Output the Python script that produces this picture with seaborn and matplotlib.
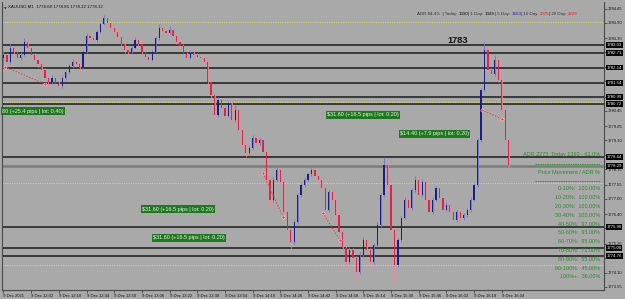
import numpy as np
import pandas as pd
import matplotlib
matplotlib.use("Agg")
import matplotlib.pyplot as plt
import seaborn as sns
from matplotlib.transforms import blended_transform_factory

# ---------------- data (XAUUSD, 2-minute bars from 11:46) ----------------
first_open = 1782.50
closes = [1782.64, 1782.36, 1782.91, 1782.75, 1782.52, 1782.64, 1783.14, 1782.91, 1782.64, 1782.44,
          1782.28, 1782.05, 1781.73, 1781.58, 1781.73, 1781.50, 1781.42, 1781.73, 1781.97, 1782.20,
          1782.36, 1782.28, 1782.13, 1782.75, 1783.38, 1783.30, 1783.22, 1783.54, 1783.85, 1784.08,
          1783.89, 1783.69, 1783.54, 1783.34, 1783.07, 1782.83, 1782.75, 1782.91, 1783.22, 1783.07,
          1782.75, 1782.56, 1782.44, 1782.75, 1783.30, 1783.69, 1783.58, 1783.50, 1783.61, 1783.38,
          1783.14, 1782.99, 1782.67, 1782.52, 1782.71, 1782.64, 1782.56, 1782.52, 1782.36, 1781.58,
          1781.07, 1780.29, 1780.87, 1780.56, 1780.25, 1780.76, 1780.09, 1780.48, 1779.70, 1779.11,
          1778.80, 1778.99, 1779.38, 1779.19, 1779.31, 1778.84, 1777.74, 1776.96, 1777.74, 1778.13,
          1777.66, 1776.49, 1775.78, 1775.31, 1776.09, 1777.15, 1777.54, 1777.74, 1777.97, 1778.13,
          1777.90, 1777.74, 1777.43, 1776.56, 1777.27, 1776.96, 1776.37, 1775.70, 1775.08, 1774.53,
          1775.00, 1774.68, 1774.14, 1774.80, 1775.39, 1775.00, 1774.53, 1775.19, 1775.98, 1777.15,
          1778.33, 1777.54, 1775.78, 1774.41, 1775.39, 1776.25, 1776.96, 1776.64, 1777.35, 1777.74,
          1777.15, 1777.66, 1776.96, 1776.49, 1776.96, 1777.43, 1777.03, 1776.56, 1776.76, 1776.49,
          1776.17, 1776.49, 1776.25, 1776.37, 1776.56, 1776.96, 1777.54, 1779.31, 1781.26, 1782.83,
          1782.05, 1781.89, 1782.44, 1781.66, 1780.48, 1779.31, 1778.32]
highs = [1782.80, 1782.72, 1783.11, 1783.00, 1782.83, 1782.74, 1783.30, 1783.22, 1782.98, 1782.72,
         1782.52, 1782.36, 1782.12, 1781.85, 1781.84, 1781.80, 1781.62, 1781.82, 1782.05, 1782.30,
         1782.48, 1782.44, 1782.36, 1782.84, 1783.48, 1783.46, 1783.40, 1783.62, 1783.94, 1784.20,
         1784.14, 1783.96, 1783.76, 1783.62, 1783.42, 1783.14, 1782.92, 1783.00, 1783.32, 1783.28,
         1783.14, 1782.82, 1782.62, 1782.84, 1783.38, 1783.85, 1783.76, 1783.66, 1783.77, 1783.68,
         1783.44, 1783.22, 1783.06, 1782.74, 1782.80, 1782.78, 1782.70, 1782.64, 1782.60, 1782.42,
         1781.64, 1781.12, 1780.99, 1780.94, 1780.64, 1780.84, 1780.82, 1780.68, 1780.54, 1779.78,
         1779.18, 1779.08, 1779.50, 1779.46, 1779.40, 1779.36, 1778.90, 1777.82, 1777.84, 1778.29,
         1778.20, 1777.72, 1776.56, 1775.86, 1776.18, 1777.24, 1777.64, 1777.84, 1778.06, 1778.24,
         1778.20, 1777.98, 1777.82, 1777.50, 1777.36, 1777.34, 1777.02, 1776.44, 1775.78, 1775.16,
         1775.10, 1775.08, 1774.76, 1774.90, 1775.50, 1775.46, 1775.08, 1775.28, 1776.08, 1777.24,
         1778.64, 1778.40, 1777.60, 1775.86, 1775.48, 1776.34, 1777.06, 1777.04, 1777.44, 1777.90,
         1777.80, 1777.76, 1777.72, 1777.04, 1777.06, 1777.52, 1777.50, 1777.10, 1776.86, 1776.84,
         1776.56, 1776.58, 1776.56, 1776.46, 1776.64, 1777.06, 1777.64, 1779.40, 1781.36, 1783.14,
         1782.96, 1782.14, 1782.64, 1782.50, 1781.72, 1780.56, 1779.38]
lows = [1782.13, 1782.25, 1782.30, 1782.66, 1782.42, 1782.45, 1782.58, 1782.83, 1782.55, 1782.36,
        1782.18, 1781.96, 1781.62, 1781.34, 1781.50, 1781.42, 1781.30, 1781.36, 1781.66, 1781.90,
        1782.12, 1782.18, 1782.02, 1782.08, 1782.70, 1783.20, 1783.10, 1783.16, 1783.48, 1783.80,
        1783.80, 1783.60, 1783.44, 1783.24, 1782.98, 1782.72, 1782.62, 1782.68, 1782.86, 1782.98,
        1782.66, 1782.46, 1782.32, 1782.38, 1782.70, 1783.24, 1783.48, 1783.40, 1783.44, 1783.30,
        1783.06, 1782.90, 1782.58, 1782.42, 1782.46, 1782.56, 1782.48, 1782.44, 1782.28, 1781.50,
        1780.96, 1780.17, 1780.22, 1780.48, 1780.16, 1780.20, 1779.98, 1780.02, 1779.60, 1779.00,
        1778.64, 1778.72, 1778.92, 1779.10, 1779.12, 1778.74, 1777.60, 1776.64, 1776.88, 1777.66,
        1777.56, 1776.38, 1775.66, 1775.08, 1775.24, 1776.02, 1777.06, 1777.46, 1777.66, 1777.90,
        1777.82, 1777.64, 1777.34, 1776.41, 1776.48, 1776.86, 1776.26, 1775.60, 1774.98, 1774.29,
        1774.46, 1774.58, 1773.82, 1774.06, 1774.72, 1774.90, 1774.37, 1774.46, 1775.12, 1775.90,
        1777.08, 1777.44, 1775.66, 1773.74, 1774.34, 1775.32, 1776.18, 1776.54, 1776.58, 1777.28,
        1777.06, 1777.08, 1776.86, 1776.40, 1776.42, 1776.90, 1776.94, 1776.46, 1776.48, 1776.40,
        1775.98, 1776.10, 1776.16, 1776.18, 1776.30, 1776.50, 1776.90, 1777.48, 1779.24, 1781.20,
        1781.96, 1781.78, 1781.82, 1781.56, 1780.38, 1779.20, 1777.74]

x_labels = ["9 Dec 2021", "9 Dec 12:02", "9 Dec 12:18", "9 Dec 12:34", "9 Dec 12:50", "9 Dec 13:06",
            "9 Dec 13:22", "9 Dec 13:38", "9 Dec 13:54", "9 Dec 14:10", "9 Dec 14:26", "9 Dec 14:42",
            "9 Dec 14:58", "9 Dec 15:14", "9 Dec 15:30", "9 Dec 15:46", "9 Dec 16:02", "9 Dec 16:18",
            "9 Dec 16:34"]
y_ticks = [1784.45, 1783.90, 1783.30, 1782.75, 1782.15, 1781.60, 1781.00, 1780.45, 1779.85, 1779.30,
           1778.70, 1778.15, 1777.55, 1777.00, 1776.40, 1775.85, 1775.25, 1774.70, 1774.10, 1773.55]
# tick labels hidden behind the black price boxes in the reference
hidden_ticks = [1782.75, 1782.15, 1781.60, 1781.00, 1778.70, 1775.85, 1774.70]

level_prices = [1783.03, 1782.71, 1782.14, 1781.54, 1780.99, 1780.72, 1778.64, 1775.90, 1775.08, 1774.76]
gray_level = 1778.29
adr_levels = [1783.93, 1780.79, 1777.62, 1774.41]

trade_texts = ["80 (+25.4 pips | lot: 0.40)", "$31.60 (+16.5 pips | lot: 0.20)",
               "$14.40 (+7.9 pips | lot: 0.20)", "$31.60 (+16.5 pips | lot: 0.20)",
               "$31.60 (+16.5 pips | lot: 0.20)"]
trade_text_x = [-0.4, 93.5, 114.6, 40.0, 43.2]
trade_text_y = [1780.44, 1780.29, 1779.54, 1776.60, 1775.47]

trade_id = [0, 0, 1, 1, 2, 2, 3, 3]
trade_bar = [0.4, 12.0, 75.0, 80.8, 92.3, 97.2, 138.2, 144.0]
trade_price = [1782.17, 1781.50, 1778.01, 1776.29, 1776.45, 1775.39, 1780.49, 1780.13]

adr_pieces = ["ADR 84.4%", "  | Today: ", "1390", "| 1 Day: ", "1349", "| 5 Day: ", "1663",
              "| 10 Day: ", "2075", "| 20 Day: ", "2229"]
adr_colors = ["#333333", "#333333", "#111111", "#333333", "#111111", "#333333", "#2020c0",
              "#333333", "#e02020", "#333333", "#e02020"]

adr_header = "ADR 2275  Today 1390 - 61.0%"
pm_header = "Price Movement / ADR %"
pm_ranges = ["0-10%:", "10-20%:", "20-30%:", "30-40%:", "40-50%:", "50-60%:", "60-70%:",
             "70-80%:", "80-90%:", "90-100%:", "100%+:"]
pm_values = [100.00, 100.00, 100.00, 100.00, 97.00, 93.00, 85.00, 71.00, 55.00, 45.00, 36.00]

title_text = "XAUUSD,M1  1778.68 1778.86 1778.22 1778.32"
peak_label = "1783"

# ---------------- style ----------------
BG = "#a9a9a9"
sns.set_theme(style="white", rc={"axes.facecolor": BG, "figure.facecolor": BG})
plt.rcParams["font.family"] = ["Liberation Sans", "DejaVu Sans"]

fig = plt.figure(figsize=(6.25, 2.99), dpi=100)
ax = fig.add_axes([2 / 625, 9 / 299, 602 / 625, 288 / 299])
ax.set_facecolor(BG)

n = len(closes)
opens = [first_open] + closes[:-1]
df = pd.DataFrame({"bar": np.arange(n), "open": opens, "high": highs, "low": lows, "close": closes})
df["bull"] = df["close"] >= df["open"]

BULL_BODY, BULL_WICK = "#1c1c86", "#7474c8"
BEAR_BODY, BEAR_WICK = "#e3224c", "#f2849d"

wick_cols = np.where(df["bull"], BULL_WICK, BEAR_WICK)
body_cols = np.where(df["bull"], BULL_BODY, BEAR_BODY)
ax.vlines(df["bar"], df["low"], df["high"], colors=wick_cols, lw=0.6, zorder=3)
body_lo = np.minimum(df["open"], df["close"])
body_h = np.maximum(np.abs(df["close"] - df["open"]), 0.025)
ax.bar(df["bar"], body_h, bottom=body_lo, width=0.36, color=body_cols, linewidth=0, zorder=4)

# horizontal levels
for p in level_prices:
    ax.axhline(p, color="#1a1a1a", lw=1.1, zorder=2)
ax.axhline(gray_level, color="#7c7c7c", lw=1.8, zorder=2)
for p in adr_levels:
    ax.axhline(p, color="#d8d860", lw=0.7, ls=(0, (1.2, 1.2)), zorder=2)

# trade lines
tdf = pd.DataFrame({"trade": trade_id, "bar": trade_bar, "price": trade_price})
sns.lineplot(data=tdf, x="bar", y="price", units="trade", estimator=None, color="#e8454f",
             lw=0.7, ls=(0, (1.5, 1.5)), ax=ax, zorder=5, legend=False)
sns.scatterplot(data=tdf, x="bar", y="price", color="#f04050", s=5, edgecolor="white",
                linewidth=0.3, ax=ax, zorder=6, legend=False)

# trade labels
for t, x, y in zip(trade_texts, trade_text_x, trade_text_y):
    ax.text(x, y, t, fontsize=3.95, color="#eaf5ea", va="center", ha="left", zorder=7,
            bbox=dict(boxstyle="square,pad=0.22", fc="#1f771f", ec="none"))

# peak label
ax.text(131.3, 1783.22, peak_label, fontsize=6.7, fontweight="bold", color="#111111",
        ha="center", va="center", zorder=7)

# title
ax.text(0.003, 0.985, "\u25BC", transform=ax.transAxes, fontsize=2.5, color="#333333",
        family="DejaVu Sans", va="top", ha="left")
ax.text(0.010, 0.99, title_text, transform=ax.transAxes, fontsize=3.2, color="#111111",
        va="top", ha="left")

# ADR top line
prev = ax.text(0.689, 0.957, adr_pieces[0], transform=ax.transAxes, fontsize=3.2,
               color=adr_colors[0], va="center", ha="left")
for s, c in zip(adr_pieces[1:], adr_colors[1:]):
    prev = ax.annotate(s, xy=(1, 0), xycoords=prev, va="bottom", ha="left",
                       fontsize=3.2, color=c)

# right panel texts
GREEN = "#2e8a2e"
tr = blended_transform_factory(ax.transAxes, ax.transData)
ax.text(0.9935, 1778.72, adr_header, transform=tr, fontsize=4.0, color=GREEN, ha="right", va="center")
ax.text(0.9935, 1778.05, pm_header, transform=tr, fontsize=4.0, color=GREEN, ha="right", va="center")
for yy in (1778.37, 1777.70):
    ax.plot([0.885, 0.9935], [yy, yy], transform=tr, color=GREEN, lw=0.6, ls=(0, (2, 0.8)))
y0, step = 1777.39, 0.345
for k, (r, v) in enumerate(zip(pm_ranges, pm_values)):
    ax.text(0.9935, y0 - k * step, f"{r}  {v:.2f}%", transform=tr, fontsize=3.9,
            color=GREEN, ha="right", va="center")

# price boxes on right axis
for p in level_prices + [gray_level]:
    ax.text(1.004, p, f"{p:.2f}", transform=tr, fontsize=3.1, color="white", ha="left",
            va="center", clip_on=False, zorder=10,
            bbox=dict(boxstyle="square,pad=0.2", fc="black", ec="none"))

# axes
ax.set_xlim(-0.43, -0.43 + 602 / 3.46)
ax.set_ylim(1773.43, 1784.71)
ax.set_xticks(np.arange(len(x_labels)) * 8)
ax.set_xticklabels(x_labels, fontsize=3.0, ha="left", color="#111111")
ax.yaxis.tick_right()
ax.set_yticks(y_ticks)
ax.set_yticklabels(["" if v in hidden_ticks else f"{v:.2f}" for v in y_ticks],
                   fontsize=3.0, color="#111111")
ax.tick_params(axis="x", direction="out", length=2, width=0.5, pad=1, color="#333333", bottom=True)
ax.tick_params(axis="y", direction="out", length=2, width=0.5, pad=1, color="#333333", right=True, left=False)
ax.set_xlabel("")
ax.set_ylabel("")
for side in ("left", "right", "bottom"):
    ax.spines[side].set_visible(True)
    ax.spines[side].set_color("#4a4a4a")
    ax.spines[side].set_linewidth(0.8)
ax.spines["top"].set_visible(False)
ax.grid(False)

fig.savefig("out.png", dpi=100, facecolor=BG)
